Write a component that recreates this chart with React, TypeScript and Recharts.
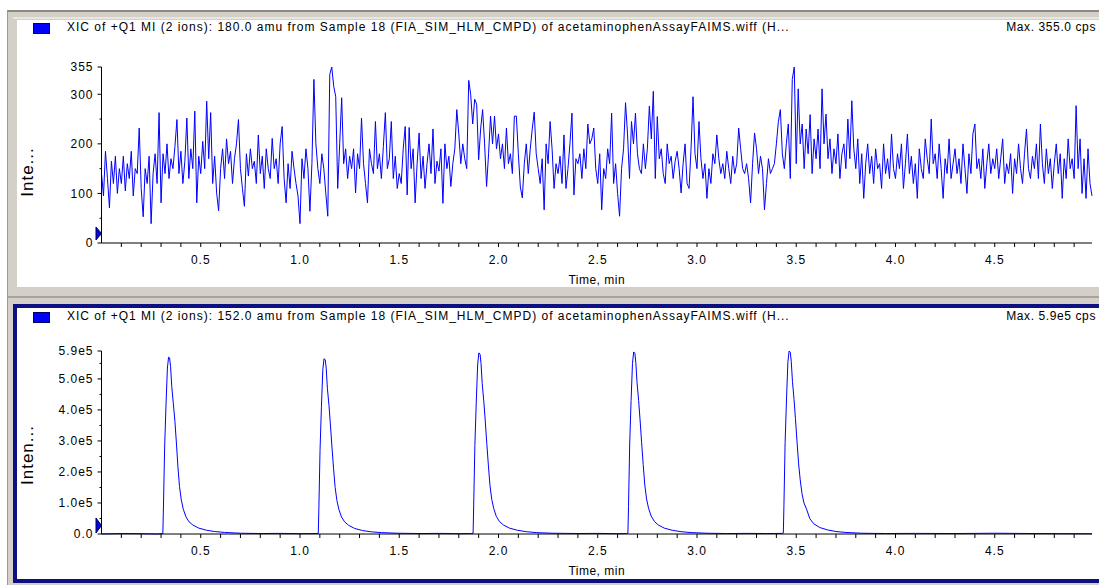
import React from 'react';
import { LineChart, Line, XAxis, YAxis } from 'recharts';

// 180.0 amu trace, one reading every 0.01 min from 0.00 to 4.99
const TOP_STEP = 0.01;
const trace180 = [
  140, 95, 185, 130, 71, 165, 120, 175, 100, 150,
  120, 175, 105, 160, 130, 185, 95, 150, 140, 232,
  110, 53, 150, 120, 175, 39, 140, 180, 120, 263,
  81, 180, 140, 200, 130, 170, 150, 195, 249, 140,
  185, 120, 165, 252, 130, 190, 150, 266, 81, 175,
  140, 205, 150, 286, 170, 263, 120, 175, 101, 65,
  150, 190, 130, 210, 160, 185, 120, 170, 200, 249,
  150, 110, 74, 180, 135, 190, 150, 165, 120, 218,
  140, 175, 110, 190, 150, 130, 211, 150, 170, 120,
  200, 235, 130, 81, 160, 110, 185, 150, 120, 95,
  39, 170, 130, 190, 150, 64, 160, 330, 200, 150,
  120, 180, 150, 100, 54, 340, 355, 316, 295, 110,
  200, 293, 160, 190, 130, 175, 150, 190, 101, 180,
  150, 252, 160, 120, 81, 190, 160, 140, 245, 150,
  180, 130, 195, 263, 150, 170, 245, 130, 175, 110,
  140, 120, 190, 235, 97, 233, 150, 190, 81, 160,
  222, 130, 175, 110, 160, 200, 140, 230, 120, 165,
  145, 190, 80, 200, 150, 175, 114, 160, 190, 269,
  220, 160, 200, 170, 150, 328, 299, 240, 290, 280,
  168, 230, 269, 200, 114, 180, 256, 200, 256, 190,
  220, 170, 200, 150, 232, 160, 180, 140, 256, 256,
  180, 113, 91, 160, 200, 140, 190, 230, 264, 180,
  150, 120, 170, 67, 200, 160, 245, 190, 110, 160,
  140, 175, 120, 218, 110, 150, 200, 262, 97, 170,
  160, 180, 130, 190, 150, 240, 200, 210, 232, 150,
  120, 180, 67, 150, 130, 190, 160, 262, 120, 160,
  100, 54, 150, 190, 283, 220, 130, 245, 200, 262,
  180, 150, 140, 200, 150, 190, 276, 210, 306, 130,
  255, 170, 190, 140, 120, 200, 160, 175, 130, 165,
  185, 150, 101, 160, 200, 120, 110, 190, 295, 180,
  150, 245, 170, 130, 160, 90, 150, 120, 180, 160,
  218, 170, 140, 160, 130, 185, 150, 120, 175, 140,
  160, 232, 190, 150, 140, 160, 130, 81, 160, 222,
  190, 140, 175, 150, 67, 120, 170, 140, 150, 160,
  200, 245, 269, 180, 150, 200, 240, 130, 330, 355,
  160, 311, 200, 240, 150, 230, 180, 259, 140, 210,
  170, 230, 150, 311, 200, 260, 170, 210, 140, 190,
  160, 220, 130, 180, 200, 150, 250, 170, 287, 190,
  150, 210, 120, 180, 90, 160, 200, 140, 175, 120,
  190, 150, 160, 110, 200, 140, 170, 130, 220, 150,
  130, 180, 150, 200, 110, 160, 220, 140, 175, 120,
  160, 90, 190, 150, 130, 210, 170, 140, 250, 160,
  180, 130, 200, 150, 90, 170, 140, 210, 130, 160,
  190, 140, 170, 120, 200, 150, 100, 180, 140, 220,
  240, 150, 170, 130, 190, 110, 160, 200, 140, 170,
  150, 190, 130, 170, 210, 120, 160, 140, 180, 100,
  170, 140, 200, 150, 120, 180, 230, 150, 130, 175,
  150, 200, 130, 240, 160, 120, 190, 140, 170, 110,
  160, 200, 140, 180, 90, 170, 130, 210, 150, 170,
  130, 277, 150, 210, 100, 170, 90, 190, 120, 95,
];

// 152.0 amu trace, [time (min), intensity (cps)] around each injection
const peak1: [number, number][] = [
  [0.0, 0], [0.1, 1500], [0.2, 1000], [0.28, 0], [0.3, 1000], [0.309, 1500],
  [0.312, 84000], [0.318, 277000], [0.325, 416000], [0.332, 535000], [0.338, 570000],
  [0.343, 568000], [0.348, 540000], [0.354, 475000], [0.362, 420000], [0.37, 362000],
  [0.378, 287000], [0.385, 217000], [0.393, 153000], [0.402, 110000], [0.412, 80000],
  [0.425, 56000], [0.44, 40000], [0.46, 29000], [0.49, 19000], [0.53, 12000],
  [0.57, 8000], [0.62, 5000], [0.7, 2500], [0.8, 1500], [0.9, 2000], [1.0, 1000], [1.08, 1500],
];
const peak2: [number, number][] = [
  [1.092, 2000], [1.095, 80000], [1.101, 270000], [1.108, 410000], [1.115, 530000],
  [1.121, 565000], [1.127, 562000], [1.132, 535000], [1.138, 470000], [1.146, 415000],
  [1.153, 355000], [1.161, 280000], [1.169, 212000], [1.177, 150000], [1.186, 108000],
  [1.196, 79000], [1.209, 55000], [1.225, 39000], [1.245, 28000], [1.275, 18000],
  [1.315, 11000], [1.36, 7000], [1.41, 4500], [1.49, 2500], [1.6, 1500], [1.7, 2000],
  [1.8, 1000], [1.86, 1500],
];
const peak3: [number, number][] = [
  [1.872, 2000], [1.875, 90000], [1.881, 285000], [1.888, 425000], [1.895, 545000],
  [1.901, 584000], [1.907, 580000], [1.912, 550000], [1.918, 485000], [1.926, 428000],
  [1.933, 368000], [1.941, 292000], [1.949, 222000], [1.957, 157000], [1.966, 112000],
  [1.976, 82000], [1.989, 57000], [2.005, 40000], [2.025, 29000], [2.055, 19000],
  [2.095, 12000], [2.14, 7500], [2.19, 4500], [2.27, 2500], [2.4, 1500], [2.5, 2000],
  [2.6, 1000], [2.645, 1500],
];
const peak4: [number, number][] = [
  [2.652, 2000], [2.655, 88000], [2.661, 290000], [2.668, 430000], [2.675, 550000],
  [2.681, 587000], [2.687, 583000], [2.692, 552000], [2.698, 488000], [2.706, 430000],
  [2.713, 370000], [2.721, 295000], [2.729, 224000], [2.737, 158000], [2.746, 113000],
  [2.756, 83000], [2.769, 58000], [2.785, 41000], [2.805, 29000], [2.835, 19000],
  [2.875, 12000], [2.92, 7500], [2.97, 4500], [3.05, 2500], [3.15, 1500], [3.25, 2000],
  [3.35, 1500], [3.43, 2000],
];
const peak5: [number, number][] = [
  [3.435, 3000], [3.438, 92000], [3.444, 295000], [3.451, 435000], [3.458, 555000],
  [3.464, 590000], [3.47, 586000], [3.475, 556000], [3.481, 492000], [3.489, 433000],
  [3.496, 372000], [3.504, 297000], [3.512, 226000], [3.52, 175000], [3.529, 130000],
  [3.539, 100000], [3.552, 80000], [3.568, 50000], [3.588, 33000], [3.618, 21000],
  [3.658, 13000], [3.7, 8000], [3.75, 5000], [3.83, 2500], [3.95, 1500], [4.1, 2000],
  [4.3, 1500], [4.5, 2500], [4.7, 1500], [4.9, 1000], [4.99, 800],
];

const timeTicks = [
  0.1, 0.2, 0.3, 0.4, 0.5, 0.6, 0.7, 0.8, 0.9, 1.0,
  1.1, 1.2, 1.3, 1.4, 1.5, 1.6, 1.7, 1.8, 1.9, 2.0,
  2.1, 2.2, 2.3, 2.4, 2.5, 2.6, 2.7, 2.8, 2.9, 3.0,
  3.1, 3.2, 3.3, 3.4, 3.5, 3.6, 3.7, 3.8, 3.9, 4.0,
  4.1, 4.2, 4.3, 4.4, 4.5, 4.6, 4.7, 4.8, 4.9,
];
const topYTicks = [0, 50, 100, 150, 200, 250, 300, 355];
const topYLabels: Record<number, string> = { 0: '0', 100: '100', 200: '200', 300: '300', 355: '355' };
const bottomYTicks = [0, 50000, 100000, 150000, 200000, 250000, 300000, 350000, 400000, 450000, 500000, 550000, 590000];
const bottomYLabels: Record<number, string> = {
  0: '0.0', 100000: '1.0e5', 200000: '2.0e5', 300000: '3.0e5', 400000: '4.0e5', 500000: '5.0e5', 590000: '5.9e5',
};

const topTitle = 'XIC of +Q1 MI (2 ions): 180.0 amu from Sample 18 (FIA_SIM_HLM_CMPD) of acetaminophenAssayFAIMS.wiff (H...';
const bottomTitle = 'XIC of +Q1 MI (2 ions): 152.0 amu from Sample 18 (FIA_SIM_HLM_CMPD) of acetaminophenAssayFAIMS.wiff (H...';

const topData = trace180.map((v, i) => ({ t: +(i * TOP_STEP).toFixed(2), v }));
const bottomData = [...peak1, ...peak2, ...peak3, ...peak4, ...peak5].map(([t, v]) => ({ t, v }));

const FONT = '"Liberation Sans", Arial, sans-serif';
const TRACE = '#0000ff';
const Y_GAP = 8;

const makeYTick = (labels: Record<number, string>) => (props: any) => {
  const { x, y, payload } = props;
  const axisX = x + Y_GAP;
  const label = labels[payload.value];
  const major = label !== undefined;
  return (
    <g>
      <line x1={axisX - (major ? 4 : 2)} x2={axisX} y1={y} y2={y} stroke="#000" />
      {major && (
        <text x={x} y={y} dy="0.36em" textAnchor="end" fontSize={12} letterSpacing={1} fill="#000">
          {label}
        </text>
      )}
    </g>
  );
};

const timeFmt = (v: number) => (Math.abs(v * 2 - Math.round(v * 2)) < 1e-6 ? v.toFixed(1) : '');

const Panel: React.FC<{
  data: { t: number; v: number }[];
  yTicks: number[];
  yLabels: Record<number, string>;
  yMax: number;
  top: number;
  height: number;
  marginTop: number;
  marginBottom: number;
}> = ({ data, yTicks, yLabels, yMax, top, height, marginTop, marginBottom }) => (
  <div style={{ position: 'absolute', left: 0, top }}>
    <LineChart width={1099} height={height} data={data} margin={{ top: marginTop, right: 7, bottom: marginBottom, left: 0 }}>
      <XAxis
        dataKey="t"
        type="number"
        domain={[0, 4.99]}
        ticks={timeTicks}
        interval={0}
        tickFormatter={timeFmt}
        tickSize={4}
        tickMargin={8}
        height={44}
        stroke="#000"
        tick={{ fontSize: 12, fill: '#000', letterSpacing: 1 }}
        label={{ value: 'Time, min', position: 'insideBottom', offset: 3, fontSize: 12, fill: '#000', letterSpacing: 0.5 }}
      />
      <YAxis
        type="number"
        domain={[0, yMax]}
        ticks={yTicks}
        interval={0}
        width={101.5}
        tickSize={0}
        tickMargin={Y_GAP}
        stroke="#000"
        tick={makeYTick(yLabels)}
      />
      <Line
        dataKey="v"
        type="linear"
        stroke={TRACE}
        strokeWidth={1}
        dot={false}
        activeDot={false}
        isAnimationActive={false}
      />
    </LineChart>
  </div>
);

const Header: React.FC<{ top: number; title: string; max: string }> = ({ top, title, max }) => (
  <>
    <div
      style={{
        position: 'absolute', left: 33, top: top - 2, width: 15, height: 9,
        background: TRACE, border: '1px solid #000060',
      }}
    />
    <div style={{ position: 'absolute', left: 67, top: top - 5, fontSize: 12, lineHeight: '14px', letterSpacing: 1, whiteSpace: 'nowrap' }}>
      {title}
    </div>
    <div style={{ position: 'absolute', right: 3, top: top - 5, fontSize: 12, lineHeight: '14px', letterSpacing: 0.6, whiteSpace: 'nowrap' }}>
      {max}
    </div>
  </>
);

export default function App() {
  return (
    <div
      style={{
        position: 'absolute', left: 0, top: 0, width: 1099, height: 585, overflow: 'hidden',
        background: '#fff', fontFamily: FONT, color: '#000',
      }}
    >
      {/* window frame */}
      <div style={{ position: 'absolute', left: 7, top: 10, right: 0, bottom: 0, background: '#d4d0c8', borderLeft: '1px solid #9c9a94', borderTop: '2px solid #8c8a84' }} />
      <div style={{ position: 'absolute', left: 13, top: 17, right: 0, height: 2, background: '#e8e6e0' }} />
      <div style={{ position: 'absolute', left: 17, top: 20, width: 1082, height: 267, background: '#fff' }} />
      <div style={{ position: 'absolute', left: 8, top: 296, right: 0, height: 2, background: '#a8a49c' }} />
      <div style={{ position: 'absolute', left: 13, top: 304, width: 1092, height: 279, boxSizing: 'border-box', border: '4px solid #0c1080', background: '#fff' }} />

      <Header top={25} title={topTitle} max="Max. 355.0 cps" />
      <Header top={314} title={bottomTitle} max="Max. 5.9e5 cps" />

      <Panel data={topData} yTicks={topYTicks} yLabels={topYLabels} yMax={355} top={0} height={290} marginTop={67} marginBottom={3} />
      <Panel data={bottomData} yTicks={bottomYTicks} yLabels={bottomYLabels} yMax={590000} top={290} height={295} marginTop={61} marginBottom={7} />

      {/* axis titles and baseline markers */}
      <svg width={1099} height={585} style={{ position: 'absolute', left: 0, top: 0, pointerEvents: 'none' }}>
        <text x={33} y={172} transform="rotate(-90 33 172)" textAnchor="middle" fontSize={17} letterSpacing={1} fill="#000">
          Inte...
        </text>
        <text x={33} y={455} transform="rotate(-90 33 455)" textAnchor="middle" fontSize={17} letterSpacing={1} fill="#000">
          Inten...
        </text>
        <polygon points="96,227 101.5,233.5 96,240" fill={TRACE} stroke="#000040" strokeWidth={1} />
        <polygon points="96,518 101.5,525.5 96,533" fill={TRACE} stroke="#000040" strokeWidth={1} />
      </svg>
    </div>
  );
}
